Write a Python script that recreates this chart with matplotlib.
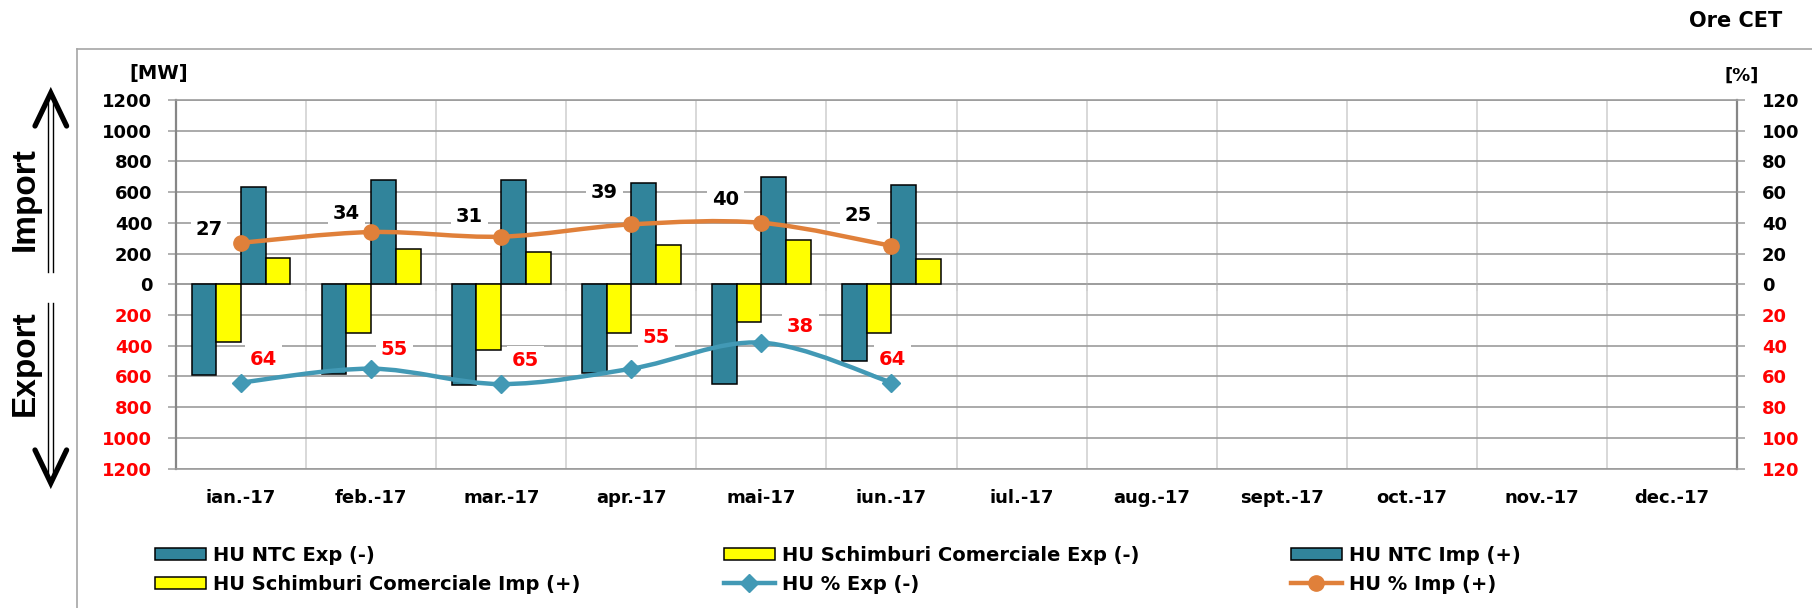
import numpy as np
import matplotlib
matplotlib.use("Agg")
import matplotlib.pyplot as plt
from matplotlib.path import Path
from matplotlib.patches import PathPatch, Patch
from matplotlib.lines import Line2D

# ---------------- data ----------------
months = ['ian.-17', 'feb.-17', 'mar.-17', 'apr.-17', 'mai-17', 'iun.-17',
          'iul.-17', 'aug.-17', 'sept.-17', 'oct.-17', 'nov.-17', 'dec.-17']
ntc_exp = [591, 582, 658, 580, 647, 497]        # MW (export, drawn downward)
sched_exp = [378, 319, 426, 319, 247, 319]      # MW
ntc_imp = [635, 682, 682, 662, 699, 645]        # MW (import, upward)
sched_imp = [171, 228, 208, 254, 285, 163]      # MW
pct_exp = [64, 55, 65, 55, 38, 64]              # %
pct_imp = [27, 34, 31, 39, 40, 25]              # %
mw_ticks = [1200, 1000, 800, 600, 400, 200, 0, -200, -400, -600, -800, -1000, -1200]
pct_ticks = [120, 100, 80, 60, 40, 20, 0, -20, -40, -60, -80, -100, -120]

labels_leg = ['HU NTC Exp (-)', 'HU Schimburi Comerciale Exp (-)', 'HU NTC Imp (+)',
              'HU Schimburi Comerciale Imp (+)', 'HU % Exp (-)', 'HU % Imp (+)']

# label offsets in pixels (dx, dy image-down)
imp_lbl_off = [(-32, -13), (-25, -19), (-32, -20), (-27, -32), (-36, -23), (-33, -30)]
exp_lbl_off = [(22, -23), (23, -19), (24, -24), (25, -31), (39, -16), (1, -23)]

# ---------------- style ----------------
W, H = 1812, 608
TEAL = '#31849B'
YEL = '#FFFF00'
LTEAL = '#4299B5'
ORANGE = '#E0803A'
RED = '#FF0000'
GRID = '#9C9C9C'
VGRID = '#D6D6D6'
AXC = '#868686'
FS = 13

plt.rcParams['font.family'] = ['DejaVu Sans']
plt.rcParams['font.weight'] = 'bold'

fig = plt.figure(figsize=(W / 100, H / 100), dpi=100)


def fx(x):
    return x / W


def fy(y):
    return 1 - y / H


ax_l, ax_r, ax_t, ax_b = 176, 1737, 100, 468.5
ax = fig.add_axes([fx(ax_l), fy(ax_b), fx(ax_r) - fx(ax_l), fy(ax_t) - fy(ax_b)])

x = np.arange(len(pct_exp))
bw = 0.19
ax.bar(x - 1.5 * bw, -np.array(ntc_exp), bw, color=TEAL, edgecolor='black', linewidth=1.1, zorder=3)
ax.bar(x - 0.5 * bw, -np.array(sched_exp), bw, color=YEL, edgecolor='black', linewidth=1.1, zorder=3)
ax.bar(x + 0.5 * bw, ntc_imp, bw, color=TEAL, edgecolor='black', linewidth=1.1, zorder=3)
ax.bar(x + 1.5 * bw, sched_imp, bw, color=YEL, edgecolor='black', linewidth=1.1, zorder=3)

ax.set_xlim(-0.5, len(months) - 0.5)
ax.set_ylim(-1200, 1200)
ax.set_xticks(np.arange(len(months)))
ax.set_xticklabels(months, fontsize=FS, fontweight='bold')
ax.set_xticks(np.arange(len(months) - 1) + 0.5, minor=True)
ax.tick_params(axis='x', which='both', length=0, pad=15)
ax.grid(which='minor', axis='x', color=VGRID, linewidth=1.3, zorder=0)
ax.set_yticks(mw_ticks)
ax.set_yticklabels([str(abs(t)) for t in mw_ticks], fontsize=FS, fontweight='bold')
for t, lab in zip(mw_ticks, ax.get_yticklabels()):
    lab.set_color(RED if t < 0 else 'black')
ax.tick_params(axis='y', length=6, width=1.1, color=GRID, pad=11)
ax.grid(which='major', axis='y', color=GRID, linewidth=1.2, zorder=0)
ax.set_axisbelow(True)
for s in ['top', 'bottom']:
    ax.spines[s].set_color(GRID)
    ax.spines[s].set_linewidth(1.2)
for s in ['left', 'right']:
    ax.spines[s].set_color(AXC)
    ax.spines[s].set_linewidth(1.6)

# tick marks on the zero line at category boundaries
sec = ax.secondary_xaxis(0.49999)
sec.set_xticks(np.arange(len(months) - 1) + 0.5)
sec.set_xticklabels([])
sec.tick_params(axis='x', direction='out', length=5, width=1.2, color=GRID)
sec.spines['bottom'].set_color(GRID)
sec.spines['bottom'].set_linewidth(1.2)

# secondary axis (%)
ax2 = ax.twinx()
ax2.set_ylim(-120, 120)
ax2.set_yticks(pct_ticks)
ax2.set_yticklabels([str(abs(t)) for t in pct_ticks], fontsize=FS, fontweight='bold')
for t, lab in zip(pct_ticks, ax2.get_yticklabels()):
    lab.set_color(RED if t < 0 else 'black')
ax2.tick_params(axis='y', length=6, width=1.1, color=GRID, pad=12)
for s in ax2.spines.values():
    s.set_visible(False)


def smooth_path(xs, ys):
    pts = np.column_stack([xs, ys]).astype(float)
    n = len(pts)
    verts = [pts[0]]
    codes = [Path.MOVETO]
    for i in range(n - 1):
        p0 = pts[i - 1] if i > 0 else pts[i]
        p1 = pts[i]
        p2 = pts[i + 1]
        p3 = pts[i + 2] if i + 2 < n else pts[i + 1]
        verts += [p1 + (p2 - p0) / 6, p2 - (p3 - p1) / 6, p2]
        codes += [Path.CURVE4] * 3
    return Path(verts, codes)


exp_y = -np.array(pct_exp)
imp_y = np.array(pct_imp)
ax2.add_patch(PathPatch(smooth_path(x, exp_y), fill=False, edgecolor=LTEAL, linewidth=3.2, zorder=4,
                        capstyle='round'))
ax2.add_patch(PathPatch(smooth_path(x, imp_y), fill=False, edgecolor=ORANGE, linewidth=3.2, zorder=4,
                        capstyle='round'))
ax2.plot(x, exp_y, linestyle='none', marker='D', markersize=9, color=LTEAL, zorder=5)
ax2.plot(x, imp_y, linestyle='none', marker='o', markersize=11, color=ORANGE, zorder=5)

for xi, v, (dx, dy) in zip(x, pct_imp, imp_lbl_off):
    ax2.annotate(str(v), (xi, v), xytext=(dx, -dy), textcoords='offset pixels',
                 ha='center', va='center', fontsize=14, fontweight='bold', color='black',
                 bbox=dict(boxstyle='square,pad=0.25', fc='white', ec='none'), zorder=6)
for xi, v, (dx, dy) in zip(x, pct_exp, exp_lbl_off):
    ax2.annotate(str(v), (xi, -v), xytext=(dx, -dy), textcoords='offset pixels',
                 ha='center', va='center', fontsize=14, fontweight='bold', color=RED,
                 bbox=dict(boxstyle='square,pad=0.25', fc='white', ec='none'), zorder=6)

# ---------------- texts ----------------
fig.text(fx(159), fy(73), '[MW]', ha='center', va='center', fontsize=14, fontweight='bold')
fig.text(fx(1742), fy(76), '[%]', ha='center', va='center', fontsize=13, fontweight='bold')
fig.text(fx(1782), fy(21), 'Ore CET', ha='right', va='center', fontsize=15, fontweight='bold')
fig.text(fx(25), fy(199), 'Import', ha='center', va='center', rotation=90, fontsize=24,
         fontweight='bold', family=['Liberation Sans', 'DejaVu Sans'])
fig.text(fx(25), fy(363), 'Export', ha='center', va='center', rotation=90, fontsize=24,
         fontweight='bold', family=['Liberation Sans', 'DejaVu Sans'])

# outer frame
fig.add_artist(Line2D([fx(76.7), 1.0], [fy(49), fy(49)], color='#A6A6A6', linewidth=1.2))
fig.add_artist(Line2D([fx(76.7), fx(76.7)], [fy(49), 0.0], color='#A6A6A6', linewidth=1.2))


def arrow(y_tail, y_tip, up=True):
    for xs in (48.3, 53.3):
        yend = y_tip + (6 if up else -6)
        fig.add_artist(Line2D([fx(xs), fx(xs)], [fy(y_tail), fy(yend)], color='black', linewidth=1.0))
    sgn = 1 if up else -1
    fig.add_artist(Line2D([fx(35), fx(50.8), fx(66.6)],
                          [fy(y_tip + sgn * 33), fy(y_tip), fy(y_tip + sgn * 33)],
                          color='black', linewidth=3.8, solid_capstyle='round', solid_joinstyle='miter'))


arrow(272, 93, up=True)
arrow(303, 483, up=False)

# ---------------- legend ----------------
h_ntc = Patch(facecolor=TEAL, edgecolor='black', linewidth=1.1)
h_sch = Patch(facecolor=YEL, edgecolor='black', linewidth=1.1)
h_pexp = Line2D([], [], color=LTEAL, linewidth=3.2, marker='D', markersize=9)
h_pimp = Line2D([], [], color=ORANGE, linewidth=3.2, marker='o', markersize=11)
cols = [([h_ntc, h_sch], [labels_leg[0], labels_leg[3]], 155),
        ([h_sch, h_pexp], [labels_leg[1], labels_leg[4]], 724),
        ([h_ntc, h_pimp], [labels_leg[2], labels_leg[5]], 1291)]
for hs, ls, xl in cols:
    fig.legend(hs, ls, loc='upper left', bbox_to_anchor=(fx(xl), fy(546)), frameon=False,
               borderpad=0, borderaxespad=0, handlelength=2.6, handleheight=0.6,
               handletextpad=0.4, labelspacing=0.5, prop=dict(size=14, weight='bold'))

fig.savefig('out.png', dpi=100)
